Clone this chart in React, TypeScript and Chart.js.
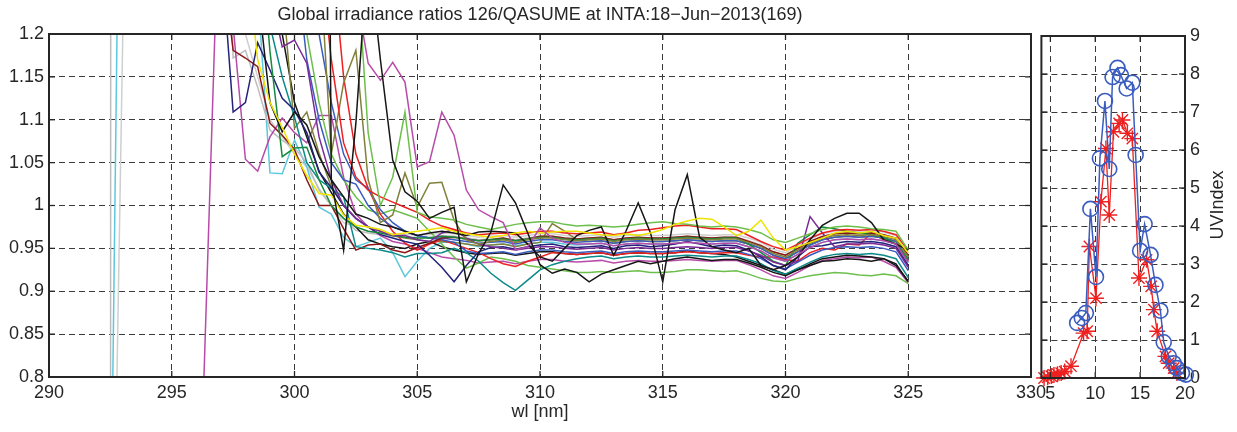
import React, { useEffect, useRef } from 'react';
import { Chart, registerables } from 'chart.js';
Chart.register(...registerables);

const FONT = '"Liberation Sans", Arial, Helvetica, sans-serif';
const TEXT = '#262626';
const GRID = '#3a3a3a';
const FS = 18;

const TITLE = 'Global irradiance ratios 126/QASUME at INTA:18\u2212Jun\u22122013(169)';
const X_LABEL = 'wl [nm]';
const UV_LABEL = 'UVIndex';

const X_TICKS = [290, 295, 300, 305, 310, 315, 320, 325, 330];
const Y_TICKS = [0.8, 0.85, 0.9, 0.95, 1, 1.05, 1.1, 1.15, 1.2];
const UV_X_TICKS = [5, 10, 15, 20];
const UV_Y_TICKS = [0, 1, 2, 3, 4, 5, 6, 7, 8, 9];

// wavelength grid (nm)
const WL = [
  292.5, 293, 293.5, 294, 294.5, 295, 295.5, 296, 296.5,
  297, 297.5, 298, 298.5, 299, 299.5, 300, 300.5, 301, 301.5,
  302, 302.5, 303, 303.5, 304, 304.5, 305, 305.5, 306, 306.5,
  307, 307.5, 308, 308.5, 309, 309.5, 310, 310.5, 311, 311.5,
  312, 312.5, 313, 313.5, 314, 314.5, 315, 315.5, 316, 316.5,
  317, 317.5, 318, 318.5, 319, 319.5, 320, 320.5, 321, 321.5,
  322, 322.5, 323, 323.5, 324, 324.5, 325,
];

// ratio series (values at consecutive WL points starting at the given wavelength)
const GRAY1 = [
  0.2, 40, 40, 40, 40, 40, 40, 40, 40,
  1.6, 1.172, 1.181, 1.138, 1.088, 1.076, 1.067, 1.05, 1.018, 1.0,
  0.985, 0.971, 0.968, 0.966, 0.964, 0.963, 0.963, 0.963, 0.965, 0.964,
  0.962, 0.96, 0.961, 0.962, 0.96, 0.962, 0.964, 0.964, 0.962, 0.961,
  0.962, 0.963, 0.96, 0.962, 0.963, 0.962, 0.962, 0.963, 0.964, 0.963,
  0.962, 0.963, 0.963, 0.959, 0.954, 0.946, 0.942, 0.95, 0.958, 0.964,
  0.967, 0.968, 0.967, 0.968, 0.966, 0.962, 0.94,
];
const CYAN = [
  0.565, 1.74, 2.5, 2.5, 2.5, 2.5, 2.5, 2.5, 2.2,
  1.8, 1.5, 1.3, 1.25, 1.038, 1.037, 1.076, 1.045, 0.998, 0.99,
  0.963, 0.952, 0.957, 0.962, 0.945, 0.917, 0.935, 0.95, 0.957, 0.957,
  0.955, 0.952, 0.954, 0.955, 0.953, 0.955, 0.957, 0.957, 0.955, 0.954,
  0.955, 0.956, 0.953, 0.955, 0.956, 0.955, 0.955, 0.956, 0.957, 0.956,
  0.955, 0.956, 0.956, 0.952, 0.947, 0.939, 0.935, 0.943, 0.951, 0.957,
  0.96, 0.961, 0.96, 0.961, 0.959, 0.955, 0.933,
];
const GRAY2 = [
  0.35, 1.19, 3, 3, 3, 3, 3, 3, 3,
  2, 1.28, 1.2, 1.15, 1.1, 1.08, 1.06, 1.045, 1.02, 1.0,
  0.98, 0.975, 0.97, 0.968, 0.967, 0.966, 0.966, 0.966, 0.968, 0.967,
  0.965, 0.963, 0.964, 0.965, 0.963, 0.965, 0.967, 0.967, 0.965, 0.964,
  0.965, 0.966, 0.963, 0.965, 0.966, 0.965, 0.965, 0.966, 0.967, 0.966,
  0.965, 0.966, 0.966, 0.962, 0.957, 0.949, 0.945, 0.953, 0.961, 0.967,
  0.97, 0.971, 0.97, 0.971, 0.969, 0.965, 0.945,
];
const MAGENTA1 = [
  0.52, 0.97,
  1.42, 1.21, 1.054, 1.04, 1.08, 1.102, 1.085, 1.073, 1.105, 1.105,
  1.033, 0.99, 0.975, 0.965, 0.958, 0.955, 0.95, 0.945, 0.94, 0.938,
  0.936, 0.933, 0.934, 0.935, 0.932, 0.935, 0.937, 0.937, 0.935, 0.934,
  0.935, 0.936, 0.933, 0.935, 0.936, 0.935, 0.935, 0.936, 0.937, 0.936,
  0.935, 0.936, 0.936, 0.931, 0.925, 0.918, 0.915, 0.922, 0.93, 0.936,
  0.938, 0.94, 0.939, 0.94, 0.935, 0.928, 0.91,
];
const NAVY = [
  1.3, 1.109, 1.12, 1.19, 1.158, 1.125, 1.111, 1.085, 1.039, 1.021,
  1.0, 0.985, 0.975, 0.966, 0.962, 0.958, 0.955, 0.942, 0.928, 0.911,
  0.93, 0.946, 0.951, 0.952, 0.949, 0.952, 0.954, 0.955, 0.952, 0.951,
  0.952, 0.953, 0.95, 0.953, 0.954, 0.952, 0.953, 0.955, 0.958, 0.955,
  0.952, 0.954, 0.953, 0.948, 0.94, 0.93, 0.925, 0.94, 0.952, 0.953,
  0.956, 0.958, 0.957, 0.958, 0.956, 0.952, 0.93,
];
const DARKRED = [
  1.3, 1.181, 1.172, 1.162, 1.096, 1.082, 1.065, 1.03, 1.0, 1.0,
  0.973, 0.948, 0.954, 0.955, 0.948, 0.945, 0.951, 0.956, 0.962, 0.963,
  0.961, 0.959, 0.96, 0.962, 0.959, 0.961, 0.964, 0.964, 0.962, 0.961,
  0.962, 0.963, 0.96, 0.962, 0.963, 0.962, 0.962, 0.963, 0.964, 0.963,
  0.962, 0.963, 0.963, 0.958, 0.953, 0.946, 0.942, 0.95, 0.958, 0.964,
  0.967, 0.968, 0.967, 0.968, 0.966, 0.962, 0.942,
];
const TEAL = [
  1.5, 1.45, 1.4, 1.3, 1.21, 1.15, 1.103, 1.05, 1.03, 1.02,
  1.01, 0.952, 0.95, 0.948, 0.945, 0.94, 0.944, 0.944, 0.945, 0.95,
  0.945, 0.935, 0.921, 0.91, 0.901, 0.913, 0.925, 0.931, 0.935, 0.938,
  0.94, 0.941, 0.938, 0.94, 0.941, 0.94, 0.94, 0.941, 0.942, 0.941,
  0.94, 0.941, 0.941, 0.937, 0.932, 0.924, 0.92, 0.927, 0.934, 0.94,
  0.943, 0.944, 0.943, 0.944, 0.942, 0.938, 0.916,
];
const MAGENTA2 = [
  1.6, 1.6, 1.6, 1.6, 1.6, 1.6, 1.55, 1.5, 1.45, 1.4,
  1.35, 1.25, 1.166, 1.146, 1.167, 1.144, 1.045, 1.051, 1.109, 1.082,
  1.018, 0.995, 0.987, 0.98, 0.948, 0.952, 0.974, 0.962, 0.957, 0.955,
  0.955, 0.956, 0.953, 0.955, 0.956, 0.955, 0.955, 0.956, 0.957, 0.956,
  0.955, 0.956, 0.956, 0.952, 0.947, 0.939, 0.935, 0.943, 0.951, 0.957,
  0.96, 0.961, 0.96, 0.961, 0.959, 0.955, 0.934,
];
const PURPLE = [
  1.6, 1.5, 1.45, 1.4, 1.25, 1.185, 1.193, 1.166, 1.08, 1.03,
  1.0, 0.985, 0.975, 0.97, 0.965, 0.965, 0.96, 0.958, 0.968, 0.972,
  0.962, 0.955, 0.952, 0.95, 0.948, 0.95, 0.952, 0.952, 0.95, 0.949,
  0.95, 0.951, 0.948, 0.95, 0.951, 0.95, 0.95, 0.951, 0.952, 0.951,
  0.95, 0.951, 0.951, 0.947, 0.942, 0.934, 0.93, 0.935, 0.987, 0.968,
  0.952, 0.955, 0.955, 0.956, 0.954, 0.95, 0.928,
];
const RED1 = [
  1.6, 1.6, 1.6, 1.6, 1.55, 1.5, 1.45, 1.4, 1.3, 1.17,
  1.073, 1.033, 1.018, 1.01, 1.004, 0.998, 0.992, 0.983, 0.976, 0.972,
  0.968, 0.966, 0.967, 0.968, 0.966, 0.968, 0.97, 0.97, 0.968, 0.967,
  0.968, 0.969, 0.966, 0.968, 0.971, 0.972, 0.974, 0.976, 0.977, 0.975,
  0.973, 0.973, 0.972, 0.965, 0.958, 0.952, 0.948, 0.955, 0.962, 0.968,
  0.971, 0.972, 0.971, 0.972, 0.97, 0.966, 0.948,
];
const RED2 = [
  1.6, 1.6, 1.6, 1.6, 1.6, 1.55, 1.5, 1.45, 1.4, 1.3,
  1.15, 1.06, 1.02, 0.99, 0.97, 0.956, 0.948, 0.955, 0.96, 0.955,
  0.95, 0.945, 0.938, 0.932, 0.929, 0.935, 0.94, 0.945, 0.944, 0.943,
  0.944, 0.945, 0.942, 0.944, 0.945, 0.944, 0.944, 0.945, 0.946, 0.945,
  0.944, 0.945, 0.945, 0.942, 0.94, 0.94, 0.937, 0.935, 0.945, 0.95,
  0.948, 0.955, 0.954, 0.968, 0.96, 0.955, 0.935,
];
const YELLOW = [
  1.5, 1.45, 1.3, 1.17, 1.12, 1.091, 1.06, 1.035, 1.014, 1.012,
  0.989, 0.977, 0.975, 0.972, 0.966, 0.968, 0.97, 0.972, 0.974, 0.97,
  0.967, 0.965, 0.963, 0.965, 0.968, 0.97, 0.968, 0.969, 0.97, 0.97,
  0.968, 0.966, 0.965, 0.967, 0.965, 0.968, 0.972, 0.978, 0.982, 0.985,
  0.984, 0.975, 0.965, 0.97, 0.983, 0.962, 0.948, 0.952, 0.957, 0.962,
  0.968, 0.97, 0.968, 0.97, 0.965, 0.962, 0.945,
];
const GREEN1 = [
  1.6, 1.6, 1.6, 1.6, 1.6, 1.6, 1.6, 1.55, 1.5, 1.45,
  1.4, 1.3, 1.085, 1.0, 1.033, 1.109, 0.992, 0.987, 0.985, 0.983,
  0.978, 0.975, 0.972, 0.975, 0.978, 0.98, 0.981, 0.981, 0.978, 0.976,
  0.977, 0.976, 0.975, 0.976, 0.978, 0.98, 0.981, 0.979, 0.978, 0.976,
  0.975, 0.976, 0.975, 0.972, 0.968, 0.96, 0.957, 0.962, 0.967, 0.972,
  0.975, 0.976, 0.975, 0.973, 0.972, 0.97, 0.948,
];
const GREEN2 = [
  1.6, 1.6, 1.6, 1.55, 1.5, 1.4, 1.3, 1.2, 1.12, 1.06,
  1.03, 1.01, 0.995, 0.99, 0.995, 0.99, 0.985, 0.97, 0.955, 0.94,
  0.927, 0.933, 0.94, 0.938, 0.935, 0.93, 0.928, 0.926, 0.924, 0.922,
  0.922, 0.923, 0.922, 0.923, 0.924, 0.922, 0.922, 0.923, 0.925, 0.925,
  0.924, 0.923, 0.924, 0.92, 0.915, 0.912, 0.911, 0.915, 0.918, 0.92,
  0.922, 0.921, 0.919, 0.918, 0.92, 0.918, 0.909,
];
const OLIVE1 = [
  1.6, 1.6, 1.6, 1.5, 1.4, 1.25, 1.09, 1.109, 1.061, 1.022,
  1.0, 0.985, 0.975, 0.97, 0.965, 0.962, 0.96, 0.958, 0.958, 0.957,
  0.955, 0.953, 0.954, 0.955, 0.952, 0.955, 0.957, 0.979, 0.97, 0.96,
  0.958, 0.959, 0.956, 0.958, 0.959, 0.958, 0.958, 0.959, 0.96, 0.959,
  0.958, 0.959, 0.959, 0.955, 0.95, 0.942, 0.938, 0.946, 0.954, 0.96,
  0.963, 0.964, 0.963, 0.964, 0.962, 0.958, 0.937,
];
const OLIVE2 = [
  1.6, 1.6, 1.6, 1.6, 1.6, 1.6, 1.5, 1.4, 1.3, 1.06,
  1.143, 1.181, 1.03, 0.98, 0.989, 1.038, 0.998, 1.026, 1.027, 0.983,
  0.96, 0.955, 0.958, 0.96, 0.957, 0.96, 0.962, 0.962, 0.96, 0.959,
  0.96, 0.961, 0.958, 0.96, 0.961, 0.96, 0.96, 0.961, 0.962, 0.961,
  0.96, 0.961, 0.961, 0.957, 0.952, 0.944, 0.94, 0.948, 0.956, 0.962,
  0.965, 0.966, 0.965, 0.966, 0.964, 0.96, 0.94,
];
const BLACK1 = [
  1.6, 1.6, 1.6, 1.6, 1.6, 1.6, 1.6, 1.6, 3.0, 1.03,
  0.948, 1.096, 1.3, 1.17, 1.053, 1.016, 1.005, 0.985, 0.992, 0.998,
  0.911, 0.944, 0.969, 1.024, 1.003, 0.968, 0.931, 0.921, 0.926, 0.922,
  0.911, 0.92, 0.925, 0.93, 0.935, 0.932, 0.935, 0.938, 0.94, 0.938,
  0.936, 0.937, 0.937, 0.933, 0.928, 0.922, 0.918, 0.925, 0.932, 0.938,
  0.94, 0.942, 0.941, 0.94, 0.938, 0.93, 0.912,
];
const BLACK2 = [
  1.6, 1.6, 1.6, 1.25, 1.12, 1.086, 1.109, 1.094, 1.057, 1.03,
  1.01, 0.99, 0.985, 0.978, 0.975, 0.97, 0.965, 0.968, 0.97, 0.968,
  0.965, 0.969, 0.97, 0.969, 0.968, 0.955, 0.94, 0.935, 0.95, 0.965,
  0.971, 0.975, 0.942, 0.97, 1.003, 0.968, 0.911, 0.995, 1.036, 0.963,
  0.952, 0.948, 0.945, 0.95, 0.93, 0.925, 0.93, 0.94, 0.96, 0.977,
  0.985, 0.991, 0.991, 0.98, 0.96, 0.955, 0.948,
];
const BLACK3 = [
  1.6, 1.6, 1.6, 1.6, 1.5, 1.2, 1.12, 1.08, 1.04, 1.015,
  0.99, 0.975, 0.96, 0.955, 0.952, 0.95, 0.955, 0.958, 0.952, 0.948,
  0.945, 0.943, 0.944, 0.945, 0.942, 0.944, 0.946, 0.946, 0.944, 0.943,
  0.944, 0.945, 0.942, 0.944, 0.945, 0.944, 0.944, 0.945, 0.947, 0.945,
  0.944, 0.943, 0.94, 0.935, 0.93, 0.925, 0.92, 0.925, 0.93, 0.935,
  0.936, 0.938, 0.937, 0.935, 0.938, 0.932, 0.911,
];
const BLUE1 = [
  1.6, 1.6, 1.6, 1.6, 1.6, 1.5, 1.4, 1.25, 1.2, 1.12,
  1.06, 1.03, 1.02, 0.995, 0.98, 0.97, 0.965, 0.962, 0.96, 0.957,
  0.947, 0.944, 0.945, 0.946, 0.943, 0.946, 0.948, 0.948, 0.946, 0.945,
  0.946, 0.947, 0.944, 0.946, 0.947, 0.946, 0.946, 0.947, 0.948, 0.947,
  0.946, 0.947, 0.947, 0.943, 0.938, 0.93, 0.926, 0.934, 0.942, 0.948,
  0.951, 0.952, 0.951, 0.952, 0.95, 0.946, 0.924,
];
const BLUE2 = [
  1.6, 1.6, 1.6, 1.6, 1.6, 1.4, 1.3, 1.17, 1.1, 1.05,
  1.03, 1.025, 1.0, 0.985, 0.975, 0.97, 0.965, 0.962, 0.962, 0.96,
  0.958, 0.956, 0.957, 0.958, 0.955, 0.958, 0.96, 0.96, 0.958, 0.957,
  0.958, 0.959, 0.956, 0.958, 0.959, 0.958, 0.958, 0.959, 0.96, 0.959,
  0.958, 0.959, 0.959, 0.955, 0.95, 0.942, 0.938, 0.946, 0.954, 0.96,
  0.963, 0.964, 0.963, 0.964, 0.962, 0.958, 0.936,
];
const DARKGREEN = [
  1.6, 1.6, 1.5, 1.35, 1.18, 1.057, 1.067, 1.068, 1.03, 1.0,
  0.985, 0.975, 0.97, 0.968, 0.965, 0.963, 0.962, 0.962, 0.964, 0.963,
  0.961, 0.959, 0.96, 0.961, 0.959, 0.961, 0.963, 0.963, 0.961, 0.96,
  0.961, 0.962, 0.959, 0.961, 0.962, 0.961, 0.961, 0.962, 0.963, 0.962,
  0.961, 0.962, 0.962, 0.955, 0.945, 0.935, 0.93, 0.956, 0.966, 0.975,
  0.973, 0.97, 0.968, 0.966, 0.963, 0.955, 0.937,
];

const SERIES = [
  { from: 297, values: BLACK1, color: '#161616' },
  { from: 297, values: MAGENTA2, color: '#b84ba9' },
  { from: 297, values: YELLOW, color: '#eee400' },
  { from: 297, values: BLACK2, color: '#161616' },
  { from: 297, values: GREEN1, color: '#6dbf4b' },
  { from: 297, values: RED1, color: '#ee2020' },
  { from: 297, values: OLIVE2, color: '#81803a' },
  { from: 297, values: PURPLE, color: '#7a2a96' },
  { from: 297, values: DARKGREEN, color: '#168a3c' },
  { from: 297, values: NAVY, color: '#23237c' },
  { from: 297, values: TEAL, color: '#0b8a8a' },
  { from: 297, values: DARKRED, color: '#8a1515' },
  { from: 297, values: BLUE1, color: '#3a5cbf' },
  { from: 297, values: BLUE2, color: '#3a5cbf' },
  { from: 297, values: RED2, color: '#ee2020' },
  { from: 297, values: GREEN2, color: '#6dbf4b' },
  { from: 297, values: OLIVE1, color: '#81803a' },
  { from: 297, values: BLACK3, color: '#161616' },
  { from: 296, values: MAGENTA1, color: '#b84ba9' },
  { from: 292.5, values: GRAY1, color: '#bdbdbd' },
  { from: 292.5, values: CYAN, color: '#5cc8dc' },
  { from: 292.5, values: GRAY2, color: '#cfcfcf' },
];

// UV index panel
const UV_Q_HOURS = [7.98, 8.5, 8.95, 9.46, 10.08, 10.52, 11.08, 11.56, 11.93, 12.48, 12.85, 13.5, 14.13, 14.5, 15.0, 15.5, 16.16, 16.71, 17.26, 17.63, 18.19, 18.74, 19.1, 19.66, 20.1];
const UV_Q_VALUES = [1.45, 1.58, 1.71, 4.45, 2.66, 5.78, 7.29, 5.5, 7.92, 8.16, 7.97, 7.62, 7.77, 5.87, 3.35, 4.05, 3.24, 2.45, 1.77, 0.94, 0.57, 0.39, 0.26, 0.13, 0.09];
const UV_126_HOURS = [4.3, 4.7, 5.1, 5.4, 5.8, 6.2, 6.6, 7.3, 8.7, 9.1, 9.35, 10.08, 10.63, 11.19, 11.56, 12.03, 12.66, 13.03, 13.58, 14.13, 14.87, 15.72, 16.23, 16.53, 16.9, 17.82, 18.19, 18.74, 19.1];
const UV_126_VALUES = [0.0, 0.02, 0.05, 0.08, 0.1, 0.13, 0.17, 0.31, 1.18, 1.23, 3.46, 2.1, 4.64, 6.04, 4.29, 6.48, 6.7, 6.79, 6.44, 6.3, 2.63, 3.11, 2.41, 1.8, 1.23, 0.57, 0.39, 0.26, 0.13];

const fmt = (v: number) => String(+Number(v).toFixed(2));

function framePlugin(xt: number[], yt: number[]) {
  return {
    id: 'frame',
    afterDraw(chart: any) {
      const { ctx, chartArea: a, scales } = chart;
      ctx.save();
      ctx.strokeStyle = '#262626';
      ctx.lineWidth = 1.3;
      const tl = 6;
      const seg = (x1: number, y1: number, x2: number, y2: number) => {
        ctx.beginPath(); ctx.moveTo(x1, y1); ctx.lineTo(x2, y2); ctx.stroke();
      };
      xt.forEach((v) => {
        const px = scales.x.getPixelForValue(v);
        seg(px, a.bottom, px, a.bottom - tl);
        seg(px, a.top, px, a.top + tl);
      });
      yt.forEach((v) => {
        const py = scales.y.getPixelForValue(v);
        seg(a.left, py, a.left + tl, py);
        seg(a.right, py, a.right - tl, py);
      });
      ctx.lineWidth = 2;
      ctx.strokeRect(a.left, a.top, a.right - a.left, a.bottom - a.top);
      ctx.restore();
    },
  };
}

const mainText = {
  id: 'mainText',
  afterDraw(chart: any) {
    const { ctx, chartArea: a } = chart;
    ctx.save();
    ctx.fillStyle = TEXT;
    ctx.font = `${FS}px ${FONT}`;
    ctx.textAlign = 'center';
    ctx.textBaseline = 'middle';
    const cx = (a.left + a.right) / 2;
    ctx.fillText(TITLE, cx, 15);
    ctx.fillText(X_LABEL, cx, 412);
    ctx.restore();
  },
};

const uvText = {
  id: 'uvText',
  afterDraw(chart: any) {
    const { ctx } = chart;
    ctx.save();
    ctx.fillStyle = TEXT;
    ctx.font = `${FS}px ${FONT}`;
    ctx.textAlign = 'center';
    ctx.textBaseline = 'middle';
    ctx.translate(1218 - 1032, 205);
    ctx.rotate(-Math.PI / 2);
    ctx.fillText(UV_LABEL, 0, 0);
    ctx.restore();
  },
};

function gridOpts() {
  return {
    display: true,
    color: GRID,
    lineWidth: 1,
    drawTicks: false,
  };
}

export default function App() {
  const mainRef = useRef<HTMLCanvasElement>(null);
  const uvRef = useRef<HTMLCanvasElement>(null);

  useEffect(() => {
    const datasets = SERIES.map((s) => {
      const start = WL.indexOf(s.from);
      return {
        data: s.values.map((v, i) => ({ x: WL[start + i], y: v })),
        borderColor: s.color,
        borderWidth: 1.5,
        pointRadius: 0,
        fill: false,
        tension: 0,
      };
    });

    const main = new Chart(mainRef.current as HTMLCanvasElement, {
      type: 'line',
      data: { datasets } as any,
      options: {
        animation: false,
        responsive: false,
        maintainAspectRatio: false,
        events: [],
        layout: { padding: { left: 0, right: 29, top: 34, bottom: 0 } },
        plugins: { legend: { display: false }, tooltip: { enabled: false }, title: { display: false } },
        scales: {
          x: {
            type: 'linear',
            min: 290,
            max: 330,
            afterBuildTicks: (s: any) => { s.ticks = X_TICKS.map((v) => ({ value: v })); },
            afterFit: (s: any) => { s.height = 55; },
            grid: gridOpts(),
            border: { display: false, dash: [6, 4] },
            ticks: { color: TEXT, font: { family: FONT, size: FS }, padding: 5, maxRotation: 0, autoSkip: false, callback: (v: any) => fmt(v) },
          },
          y: {
            type: 'linear',
            min: 0.8,
            max: 1.2,
            afterBuildTicks: (s: any) => { s.ticks = Y_TICKS.map((v) => ({ value: v })); },
            afterFit: (s: any) => { s.width = 49; },
            grid: gridOpts(),
            border: { display: false, dash: [6, 4] },
            ticks: { color: TEXT, font: { family: FONT, size: FS }, padding: 5, autoSkip: false, callback: (v: any) => fmt(v) },
          },
        },
      } as any,
      plugins: [framePlugin(X_TICKS, Y_TICKS), mainText],
    });

    const uv = new Chart(uvRef.current as HTMLCanvasElement, {
      type: 'line',
      data: {
        datasets: [
          {
            data: UV_Q_HOURS.map((h, i) => ({ x: h, y: UV_Q_VALUES[i] })),
            borderColor: '#3a5cbf',
            borderWidth: 1.5,
            pointStyle: 'circle',
            pointRadius: 7.5,
            pointBorderWidth: 1.6,
            pointBorderColor: '#3a5cbf',
            pointBackgroundColor: 'rgba(0,0,0,0)',
            fill: false,
            tension: 0,
            clip: false,
          },
          {
            data: UV_126_HOURS.map((h, i) => ({ x: h, y: UV_126_VALUES[i] })),
            borderColor: '#ee2020',
            borderWidth: 1.3,
            pointStyle: 'star',
            pointRadius: 8,
            pointBorderWidth: 1.4,
            pointBorderColor: '#ee2020',
            pointBackgroundColor: 'rgba(0,0,0,0)',
            fill: false,
            tension: 0,
            clip: false,
          },
        ],
      } as any,
      options: {
        animation: false,
        responsive: false,
        maintainAspectRatio: false,
        events: [],
        layout: { padding: { left: 9, right: 0, top: 36, bottom: 0 } },
        plugins: { legend: { display: false }, tooltip: { enabled: false }, title: { display: false } },
        scales: {
          x: {
            type: 'linear',
            min: 4,
            max: 20,
            afterBuildTicks: (s: any) => { s.ticks = UV_X_TICKS.map((v) => ({ value: v })); },
            afterFit: (s: any) => { s.height = 54; },
            grid: gridOpts(),
            border: { display: false, dash: [6, 4] },
            ticks: { color: TEXT, font: { family: FONT, size: FS }, padding: 5, maxRotation: 0, autoSkip: false },
          },
          y: {
            type: 'linear',
            position: 'right',
            min: 0,
            max: 9,
            afterBuildTicks: (s: any) => { s.ticks = UV_Y_TICKS.map((v) => ({ value: v })); },
            afterFit: (s: any) => { s.width = 52; },
            grid: gridOpts(),
            border: { display: false, dash: [6, 4] },
            ticks: { color: TEXT, font: { family: FONT, size: FS }, padding: 5, autoSkip: false },
          },
        },
      } as any,
      plugins: [framePlugin(UV_X_TICKS, UV_Y_TICKS), uvText],
    });

    return () => {
      main.destroy();
      uv.destroy();
    };
  }, []);

  return (
    <div style={{ position: 'fixed', left: 0, top: 0, width: 1237, height: 432, background: '#ffffff', overflow: 'hidden' }}>
      <canvas ref={mainRef} width={1060} height={432} style={{ position: 'absolute', left: 0, top: 0, width: 1060, height: 432 }} />
      <canvas ref={uvRef} width={205} height={432} style={{ position: 'absolute', left: 1032, top: 0, width: 205, height: 432 }} />
    </div>
  );
}
